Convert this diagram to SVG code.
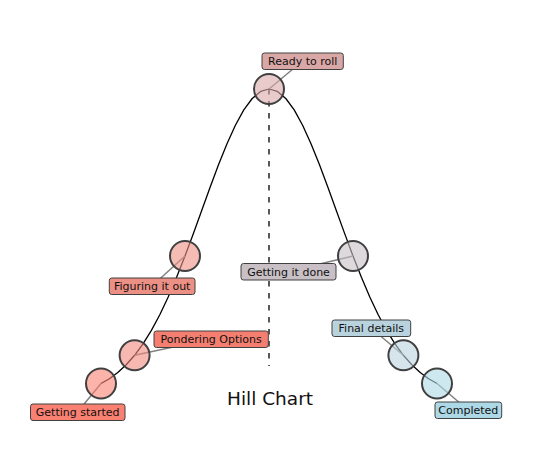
<svg xmlns="http://www.w3.org/2000/svg" width="536" height="460" viewBox="0 0 536 460">
<style>
.curve{fill:none;stroke:#000;stroke-width:1.3;stroke-linejoin:round}
.dash{fill:none;stroke:#000;stroke-width:1.3;stroke-dasharray:5.5 6.5}
.conn{stroke:#808080;stroke-width:1.5;fill:none}
.dot{stroke:#404040;stroke-width:2;fill-opacity:0.6}
.box{stroke:#404040;stroke-width:1}
.lbl{font-family:"DejaVu Sans",sans-serif;font-size:11px;fill:#111;text-anchor:middle}
.title{font-family:"DejaVu Sans",sans-serif;font-size:18.5px;fill:#111;text-anchor:middle}
</style>
<rect width="536" height="460" fill="#fff"/>
<g id="connectors">
<polyline class="curve" points="101,383.5 109.4,378.7 117.8,372.5 126.2,364.8 134.6,355.3 143,343.9 151.4,330.4 159.8,314.8 168.2,297 176.6,277.3 185,256 193.4,233.4 201.8,210.2 210.2,187 218.6,164.5 227,143.7 235.4,125.2 243.8,109.9 252.2,98.5 260.6,91.4 269,89 277.4,91.4 285.8,98.5 294.2,109.9 302.6,125.2 311,143.7 319.4,164.5 327.8,187 336.2,210.2 344.6,233.4 353,256 361.4,277.3 369.8,297 378.2,314.8 386.6,330.4 395,343.9 403.4,355.3 411.8,364.8 420.2,372.5 428.6,378.7 437,383.5"/>
<line class="dash" x1="269" y1="89" x2="269" y2="366"/>
<line class="conn" x1="77.5" y1="412" x2="101" y2="383.5"/>
<line class="conn" x1="211" y1="339" x2="134.6" y2="355.3"/>
<line class="conn" x1="152" y1="286" x2="185" y2="256"/>
<line class="conn" x1="302.5" y1="61" x2="269" y2="89"/>
<line class="conn" x1="288.5" y1="271.5" x2="353" y2="256"/>
<line class="conn" x1="371" y1="328" x2="403.4" y2="355.3"/>
<line class="conn" x1="468" y1="410" x2="437" y2="383.5"/>
</g>
<g id="getting-started">
<circle class="dot" cx="101" cy="383.5" r="15" fill="#FA8072"/>
<rect class="box" x="30.5" y="404" width="94.5" height="16.5" rx="2.5" fill="#FA8072"/>
<text class="lbl" x="77.7" y="416.3">Getting started</text>
</g>
<g id="pondering-options">
<circle class="dot" cx="134.6" cy="355.3" r="15" fill="#F2897E"/>
<rect class="box" x="154" y="331" width="114.3" height="16.5" rx="2.5" fill="#F47F70"/>
<text class="lbl" x="211.2" y="343.3">Pondering Options</text>
</g>
<g id="figuring-it-out">
<circle class="dot" cx="185" cy="256" r="15" fill="#EC8F84"/>
<rect class="box" x="109.3" y="278" width="85.7" height="16.5" rx="2.5" fill="#EC8F84"/>
<text class="lbl" x="152.2" y="290.3">Figuring it out</text>
</g>
<g id="ready-to-roll">
<circle class="dot" cx="269" cy="89" r="15" fill="#D9A8A6"/>
<rect class="box" x="262" y="53" width="81.3" height="16.5" rx="2.5" fill="#D9A8A6"/>
<text class="lbl" x="302.7" y="65.3">Ready to roll</text>
</g>
<g id="getting-it-done">
<circle class="dot" cx="353" cy="256" r="15" fill="#C8C0C4"/>
<rect class="box" x="241" y="263.5" width="95" height="16.5" rx="2.5" fill="#C8C0C4"/>
<text class="lbl" x="288.5" y="275.8">Getting it done</text>
</g>
<g id="final-details">
<circle class="dot" cx="403.4" cy="355.3" r="15" fill="#B9D3DE"/>
<rect class="box" x="332" y="320" width="78.7" height="16.5" rx="2.5" fill="#B9D3DE"/>
<text class="lbl" x="371.3" y="332.3">Final details</text>
</g>
<g id="completed">
<circle class="dot" cx="437" cy="383.5" r="15" fill="#ADD8E6"/>
<rect class="box" x="435" y="402" width="66.7" height="16.5" rx="2.5" fill="#ADD8E6"/>
<text class="lbl" x="468.3" y="414.3">Completed</text>
</g>
<text class="title" x="270" y="405">Hill Chart</text>
</svg>
